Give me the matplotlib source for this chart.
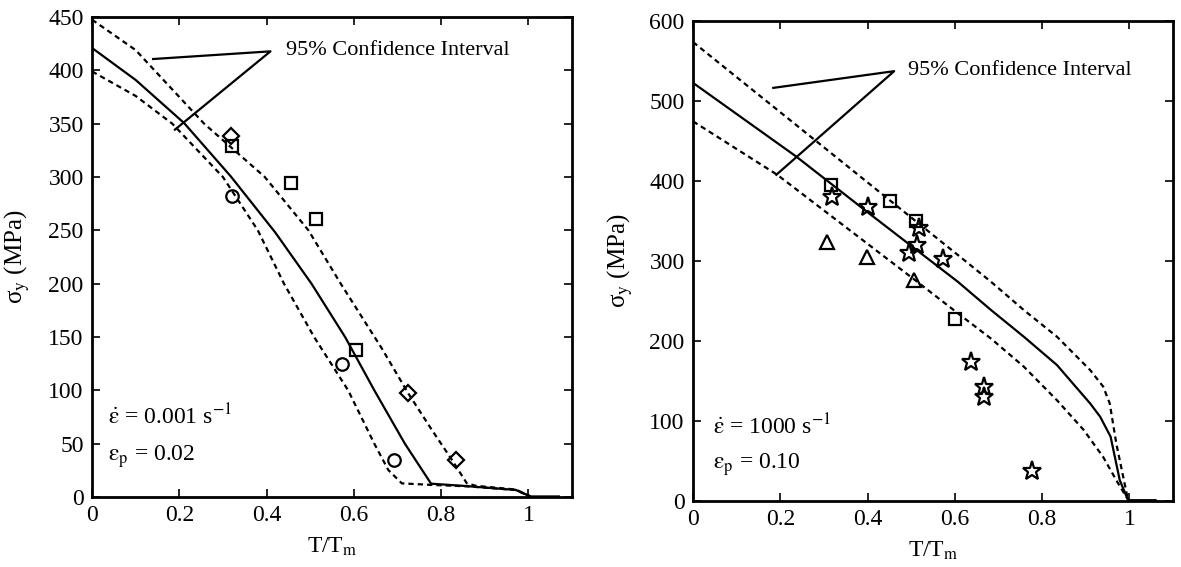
import matplotlib
matplotlib.use('Agg')
import matplotlib.pyplot as plt

plt.rcParams['font.family'] = ['Liberation Serif', 'DejaVu Serif']
plt.rcParams['mathtext.fontset'] = 'stix'

# ---------------- Left panel data (rate 0.001 /s, eps_p = 0.02) ----------------
left_fit_T = [0.0, 0.10, 0.211, 0.318, 0.42, 0.503, 0.58, 0.647, 0.717, 0.777, 0.856, 0.971, 1.005, 1.07]
left_fit_s = [421, 391, 350.6, 300.6, 248, 200, 150, 100, 50, 12.5, 10.3, 6.6, 0.5, 0.5]
left_up_T = [0.0, 0.10, 0.257, 0.396, 0.496, 0.57, 0.664, 0.725, 0.779, 0.825, 0.859, 0.88, 0.971, 1.005]
left_up_s = [447.5, 419, 350, 300, 250, 200, 139.4, 97, 62.8, 34.7, 12.8, 10.5, 7.0, 0.5]
left_lo_T = [0.0, 0.10, 0.184, 0.30, 0.38, 0.44, 0.509, 0.587, 0.647, 0.679, 0.71, 0.775, 0.86, 0.971, 1.005]
left_lo_s = [399, 376, 350, 300, 250, 200, 150, 100, 50, 25.3, 12.8, 11.4, 10.0, 6.6, 0.5]

left_diamond_T = [0.318, 0.724, 0.834]
left_diamond_s = [338, 97.5, 35]
left_square_T = [0.32, 0.455, 0.514, 0.604]
left_square_s = [328.75, 294, 261, 137.5]
left_circle_T = [0.32, 0.574, 0.693]
left_circle_s = [282, 124.7, 35]

# ---------------- Right panel data (rate 1000 /s, eps_p = 0.10) ----------------
right_fit_T = [0.0, 0.236, 0.40, 0.607, 0.683, 0.758, 0.834, 0.91, 0.933, 0.957, 0.978, 0.997, 1.06]
right_fit_s = [522.7, 430.8, 361, 274, 238.7, 205.4, 170, 122, 105.4, 80.4, 26, 1, 1]
right_up_T = [0.0, 0.51, 0.607, 0.683, 0.758, 0.834, 0.91, 0.94, 0.955, 0.97, 0.986, 0.997]
right_up_s = [573.7, 350, 307.5, 274, 238.75, 205.4, 163.75, 143, 122, 72, 30, 1]
right_lo_T = [0.0, 0.193, 0.507, 0.618, 0.683, 0.758, 0.834, 0.895, 0.94, 0.97, 0.993, 1.0]
right_lo_s = [474.6, 407.8, 276.9, 230, 203, 168, 126, 89, 55, 26, 5, 1]

right_square_T = [0.317, 0.451, 0.51, 0.60]
right_square_s = [394.4, 375.2, 350, 227]
right_star_T = [0.318, 0.40, 0.518, 0.513, 0.494, 0.574, 0.637, 0.667, 0.667, 0.776]
right_star_s = [380.6, 368, 341, 320, 309.6, 303, 174, 143, 129.6, 37.5]
right_tri_T = [0.307, 0.398, 0.507]
right_tri_s = [323.4, 305.4, 276]

FS = 17
dash = (0, (2.4, 1.8))

fig = plt.figure(figsize=(11.81, 5.67), dpi=100)
axL = fig.add_axes([92/1181, (567-497)/567, 480/1181, 480/567])
axR = fig.add_axes([693/1181, (567-501)/567, 480/1181, 480/567])

def style(ax, ymax, ystep, ypad):
    ax.set_xlim(0, 1.1)
    ax.set_ylim(0, ymax)
    ax.set_xticks([0, 0.2, 0.4, 0.6, 0.8, 1.0])
    ax.set_xticklabels(['0', '0.2', '0.4', '0.6', '0.8', '1'])
    ax.set_yticks(list(range(0, ymax + 1, ystep)))
    ax.tick_params(direction='in', top=True, right=True, length=6, width=1.2,
                   labelsize=FS, pad=6)
    for sp in ax.spines.values():
        sp.set_linewidth(2.0)
    ax.set_xlabel(r'T/T$_{\rm m}$', fontsize=FS, labelpad=7)
    ax.set_ylabel(r'σ$_{\rm y}$ (MPa)', fontsize=FS + 1, labelpad=ypad)

lw = 1.6
mk = dict(linestyle='none', markerfacecolor='none', markeredgecolor='black', markeredgewidth=1.6)

# Left
axL.plot(left_fit_T, left_fit_s, color='black', lw=lw)
axL.plot(left_up_T, left_up_s, color='black', lw=lw, linestyle=dash)
axL.plot(left_lo_T, left_lo_s, color='black', lw=lw, linestyle=dash)
axL.plot(left_diamond_T, left_diamond_s, marker='D', markersize=8, **mk)
axL.plot(left_square_T, left_square_s, marker='s', markersize=8.5, **mk)
axL.plot(left_circle_T, left_circle_s, marker='o', markersize=9, **mk)
axL.plot([0.140, 0.409, 0.19], [410.6, 417.8, 344.4], color='black', lw=1.6)
axL.text(0.444, 419, '95% Confidence Interval', fontsize=16, va='center', ha='left')
axL.text(0.036, 68, r'$\dot{\mathrm{\varepsilon}}$ = 0.001 s$^{-1}$', fontsize=FS, va='baseline')
axL.text(0.036, 34, r'$\mathrm{\varepsilon}_{\rm p}$ = 0.02', fontsize=FS, va='baseline')
style(axL, 450, 50, 12)

# Right
axR.plot(right_fit_T, right_fit_s, color='black', lw=lw)
axR.plot(right_up_T, right_up_s, color='black', lw=lw, linestyle=dash)
axR.plot(right_lo_T, right_lo_s, color='black', lw=lw, linestyle=dash)
axR.plot(right_square_T, right_square_s, marker='s', markersize=8.5, **mk)
axR.plot(right_star_T, right_star_s, marker='*', markersize=14, **mk)
axR.plot(right_tri_T, right_tri_s, marker='^', markersize=10, **mk)
axR.plot([0.184, 0.461, 0.191], [516.4, 537.3, 407.8], color='black', lw=1.6)
axR.text(0.492, 538, '95% Confidence Interval', fontsize=16, va='center', ha='left')
axR.text(0.045, 84, r'$\dot{\mathrm{\varepsilon}}$ = 1000 s$^{-1}$', fontsize=FS, va='baseline')
axR.text(0.045, 40, r'$\mathrm{\varepsilon}_{\rm p}$ = 0.10', fontsize=FS, va='baseline')
style(axR, 600, 100, 10)

fig.savefig('out.png', dpi=100)
